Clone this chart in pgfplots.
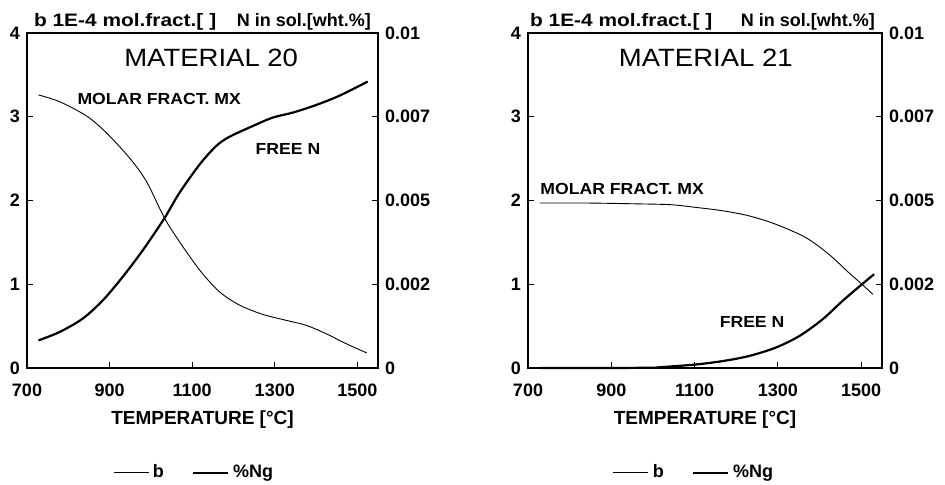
\documentclass[border=0pt]{standalone}
\usepackage{pgfplots}
\pgfplotsset{compat=1.18}
\usepackage{fontspec}
\setmainfont{Liberation Sans}
\newfontfamily\wide[FakeStretch=1.1]{Liberation Sans}
\newfontfamily\wider[FakeStretch=1.16]{Liberation Sans}

\pgfplotsset{
  panel/.style={
    scale only axis, height=167.5pt, anchor=south west,
    xmin=700, xmax=1550,
    tick align=inside, major tick length=3pt,
    axis line style={line width=0.6pt},
    every tick/.style={black, line width=0.6pt},
    ticklabel style={font=\fontsize{9}{10}\selectfont\bfseries},
    /pgf/number format/assume math mode=true,
    /pgf/number format/set thousands separator={},
    clip=false,
  },
  main/.style={
    panel, ymin=0, ymax=4,
    xtick={700,900,1100,1300,1500}, ytick={0,1,2,3,4},
    xtick pos=bottom, ytick pos=left,
    xticklabel style={yshift=-4.5pt},
    xlabel={TEMPERATURE [°C]},
    xlabel style={font=\fontsize{9.5}{11}\selectfont\bfseries,
      at={(axis description cs:0.5,-0.155)}, anchor=center},
  },
  second/.style={
    panel, ymin=0, ymax=0.01,
    axis x line=none, axis y line*=right,
    ytick={0,0.0025,0.005,0.0075,0.01},
    yticklabels={0,0.002,0.005,0.007,0.01},
    scaled y ticks=false,
    legend columns=2,
    legend style={draw=none, fill=none, anchor=center,
      font=\fontsize{9}{10}\selectfont\bfseries,
      /tikz/every even column/.append style={column sep=12pt}},
    legend image code/.code={\draw[#1] (0pt,0pt) -- (17.5pt,0pt);},
  },
  bline/.style={black, line width=0.45pt, smooth},
  nline/.style={black, line width=1.1pt, smooth},
}
\newcommand{\hdrfont}{\fontsize{9}{10}\selectfont\bfseries}
\newcommand{\annfont}{\wide\fontsize{8}{9}\selectfont\bfseries}
\newcommand{\ttlfont}{\wide\fontsize{12.5}{14}\selectfont}

\begin{document}
\begin{tikzpicture}
\useasboundingbox (0,0) rectangle (472.5pt,242pt);

% ---------- MATERIAL 20 ----------
\begin{axis}[main, width=175.5pt, at={(13.5pt,58pt)}]
% b, molar fraction MX [1E-4]
\addplot[bline] coordinates {
  (728,3.26) (779,3.18) (844,3.01) (892,2.81) (948,2.51) (989,2.23)
  (1033,1.79) (1069,1.51) (1118,1.17) (1166,0.91) (1215,0.75) (1271,0.64)
  (1327,0.57) (1376,0.51) (1424,0.41) (1473,0.29) (1523,0.18)
};
\node[font=\ttlfont] at (axis cs:1146,3.70) {MATERIAL 20};
\node[font=\annfont] at (axis cs:1020,3.21) {MOLAR FRACT. MX};
\node[font=\annfont] at (axis cs:1332,2.62) {FREE N};
\node[font=\wider\hdrfont, anchor=base west] at (rel axis cs:0,1.018) {b 1E-4 mol.fract.[ ]};
\node[font=\hdrfont, anchor=base east] at (rel axis cs:1.0,1.018) {N in sol.[wht.\%]};
\end{axis}
\begin{axis}[second, width=175.5pt, at={(13.5pt,58pt)},
  legend style={at={(0.479,-0.313)}}]
\addlegendimage{black, line width=0.45pt}
\addlegendentry{b}
% %Ng, free nitrogen [wt%]
\addplot[nline] coordinates {
  (728,0.000825) (779,0.001075) (835,0.001475) (884,0.002025) (932,0.002725)
  (981,0.003525) (1033,0.004475) (1069,0.005225) (1118,0.006075) (1158,0.006625)
  (1190,0.0069) (1247,0.007225) (1295,0.007475) (1344,0.007625) (1400,0.00785)
  (1456,0.008125) (1525,0.00855)
};
\addlegendentry{\%Ng}
\end{axis}

% ---------- MATERIAL 21 ----------
\begin{axis}[main, width=177pt, at={(264pt,58pt)}]
\addplot[bline] coordinates {
  (728,1.97) (841,1.97) (962,1.96) (1043,1.95) (1099,1.92) (1164,1.88)
  (1228,1.82) (1293,1.72) (1366,1.56) (1422,1.36) (1470,1.14) (1502,1.00)
  (1528,0.88)
};
\node[font=\ttlfont] at (axis cs:1127,3.70) {MATERIAL 21};
\node[font=\annfont] at (axis cs:926,2.14) {MOLAR FRACT. MX};
\node[font=\annfont] at (axis cs:1238,0.55) {FREE N};
\node[font=\wider\hdrfont, anchor=base west] at (rel axis cs:-0.014,1.018) {b 1E-4 mol.fract.[ ]};
\node[font=\hdrfont, anchor=base east] at (rel axis cs:1.0,1.018) {N in sol.[wht.\%]};
\end{axis}
\begin{axis}[second, width=177pt, at={(264pt,58pt)},
  legend style={at={(0.472,-0.313)}}]
\addlegendimage{black, line width=0.45pt}
\addlegendentry{b}
\addplot[nline] coordinates {
  (728,0) (800,0) (900,0) (1000,0.00001) (1018,0.000025) (1099,0.0001)
  (1164,0.0002) (1228,0.00035) (1293,0.0006) (1351,0.00095) (1407,0.00145)
  (1455,0.002) (1502,0.0025) (1531,0.0028)
};
\addlegendentry{\%Ng}
\end{axis}
\end{tikzpicture}
\end{document}
